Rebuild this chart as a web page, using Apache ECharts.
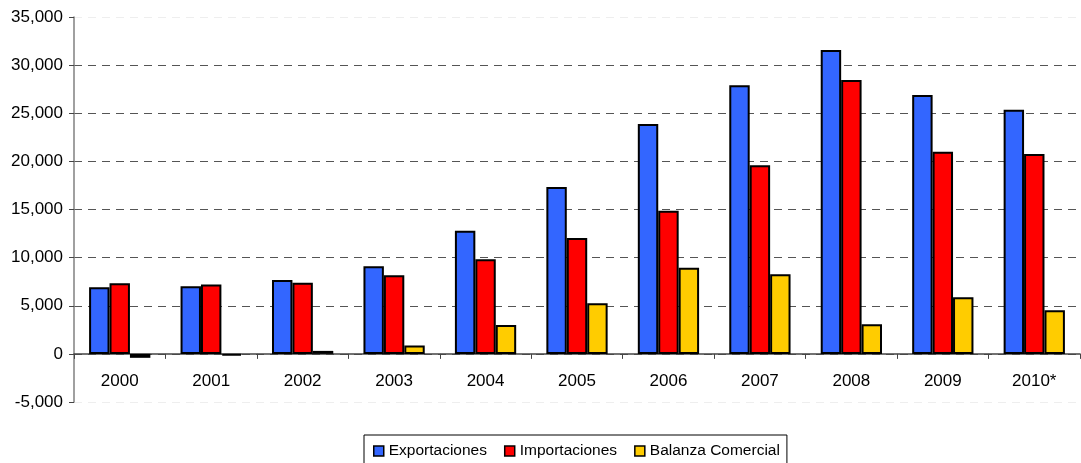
<!DOCTYPE html>
<html><head><meta charset="utf-8">
<script src="https://cdn.jsdelivr.net/npm/echarts@6/dist/echarts.min.js"></script>
<style>html,body{margin:0;padding:0;background:#fff}#c{width:1081px;height:463px}</style>
</head><body><div id="c"></div>
<script>
const categories = ['2000','2001','2002','2003','2004','2005','2006','2007','2008','2009','2010*'];
const exportaciones = [6930, 7030, 7680, 9100, 12800, 17340, 23880, 27900, 31570, 26900, 25370];
const importaciones = [7340, 7200, 7400, 8170, 9830, 12050, 14880, 19600, 28450, 21000, 20770];
const balanza = [-410, -170, 310, 860, 3010, 5260, 8960, 8270, 3080, 5890, 4540];
const seriesNames = ['Exportaciones', 'Importaciones', 'Balanza Comercial'];
const colors = ['#3366FF', '#FF0000', '#FFCC00'];

const chart = echarts.init(document.getElementById('c'));
const font = 'Liberation Sans, Arial, sans-serif';
const gridTop = 17, gridBottom = 61, H = 463;
const yMin = -5000, yMax = 35000;
const plotH = H - gridTop - gridBottom;
const zeroOffset = plotH * (0 - yMin) / (yMax - yMin);
const mk = (name, data, color) => ({
  name, type: 'bar', data, barGap: '0%', barCategoryGap: '33%',
  itemStyle: { color, borderColor: '#000', borderWidth: 2 },
  emphasis: { disabled: true }
});
chart.setOption({
  animation: false,
  textStyle: { fontFamily: font },
  grid: { left: 74, right: 1, top: gridTop, bottom: gridBottom },
  legend: {
    data: seriesNames, top: 435, left: 364,
    borderColor: '#000', borderWidth: 1, padding: [8, 7, 10, 9],
    itemWidth: 10, itemHeight: 10, itemGap: 17, icon: 'rect',
    itemStyle: { borderColor: '#000', borderWidth: 1.5 },
    textStyle: { fontSize: 15.5, color: '#000', fontFamily: font }
  },
  xAxis: {
    type: 'category', data: categories, position: 'bottom',
    offset: -zeroOffset,
    axisLine: { onZero: false, lineStyle: { color: '#444', width: 1.5 } },
    axisTick: { show: true, length: 5, lineStyle: { color: '#444' } },
    axisLabel: { fontSize: 17, color: '#000', margin: 19, fontFamily: font },
    splitLine: { show: false }
  },
  yAxis: {
    type: 'value', min: yMin, max: yMax, interval: 5000,
    axisLine: { show: true, lineStyle: { color: '#808080', width: 1.5 } },
    axisTick: { show: true, length: 5, lineStyle: { color: '#444' } },
    axisLabel: { fontSize: 17, color: '#000', margin: 11, fontFamily: font,
      formatter: v => v.toLocaleString('en-US') },
    splitLine: { show: true, lineStyle: { type: [8, 6], width: 1,
      color: ['#eee', '#555', '#555', '#555', '#555', '#555', '#555', '#555', '#eee'] } }
  },
  series: [
    mk(seriesNames[0], exportaciones, colors[0]),
    mk(seriesNames[1], importaciones, colors[1]),
    mk(seriesNames[2], balanza, colors[2])
  ]
});
</script></body></html>
